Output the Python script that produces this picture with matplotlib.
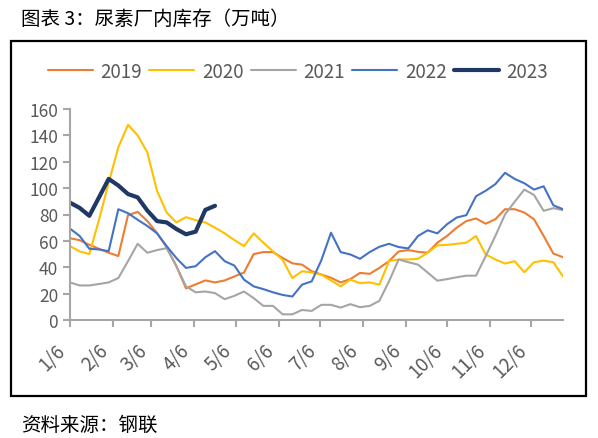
import matplotlib.pyplot as plt
import matplotlib.transforms as mtransforms
from matplotlib.patches import Rectangle
import numpy as np

plt.rcParams['font.family'] = ['Noto Sans CJK SC', 'DejaVu Sans']

# weekly observations, week 0 = 1/6
y2019 = [62, 60.5, 57, 54, 51, 48.5, 79.5, 82, 75, 66, 55, 41, 24, 27, 30, 28.5, 30, 33, 36, 50,
         51.5, 51.5, 47, 43, 42, 37, 34.5, 32, 28.5, 31, 35.7, 35, 39.5, 44.6, 52, 53, 51.7, 51,
         58.6, 63.7, 70, 75, 77, 73, 76.4, 84, 84, 81.5, 76.4, 63.7, 50.4, 47.6]
y2020 = [56, 52, 50, 76, 104, 131, 148, 140, 127, 98, 81.5, 74, 78, 75.7, 74, 70, 65.7, 60.6, 56,
         65.7, 58.6, 52, 45.6, 31.8, 37, 36, 34.4, 30, 25.5, 30.6, 28, 28.5, 26.8, 44.6, 45.9,
         45.9, 46.4, 51, 56.6, 57, 57.8, 58.6, 63.7, 49.7, 45.9, 42.8, 44.6, 36.2, 43.8, 45, 43.8, 33]
y2021 = [28.5, 26.2, 26.2, 27.3, 28.5, 31.8, 44.6, 57.8, 51, 53, 54.5, 40.8, 25.5, 21, 21.6, 20.4,
         15.8, 18.3, 21.6, 16.6, 10.7, 10.7, 4.3, 4.3, 7.6, 6.9, 11.5, 11.5, 9.4, 12, 9.7, 10.7,
         14.5, 29.3, 45.9, 43.8, 42, 36, 29.8, 31, 32.4, 33.6, 33.6, 48.4, 63.7, 80, 89.7, 98.9,
         94.8, 82.8, 84.8, 83.3]
y2022 = [69.3, 63.7, 54, 53.5, 52.2, 84, 81, 76, 71.3, 65.7, 56, 47, 39.5, 40.8, 47.6, 52.2, 44.6,
         41.3, 30.6, 25.5, 23.4, 21, 19, 17.8, 26.8, 29.3, 45.3, 66.2, 51.5, 49.7, 46.4, 51.5, 55.5,
         57.8, 55.3, 54.3, 63.7, 68, 65.7, 72.6, 77.7, 79.5, 93.8, 98, 103, 111.6, 107, 103.7,
         98.9, 101.4, 87, 84]
y2023 = [89, 85, 79, 93, 107, 102, 95.5, 93, 83, 75, 74, 69, 65, 67, 83.5, 86.6]

tick_days = [0, 31, 59, 90, 120, 151, 181, 212, 243, 273, 304, 334]
tick_labels = ['1/6', '2/6', '3/6', '4/6', '5/6', '6/6', '7/6', '8/6', '9/6', '10/6', '11/6', '12/6']

series = [('2019', y2019, '#ED7D31', 1.5),
          ('2020', y2020, '#FFC000', 1.5),
          ('2021', y2021, '#A5A5A5', 1.5),
          ('2022', y2022, '#4472C4', 1.5),
          ('2023', y2023, '#203864', 3.0)]

fig = plt.figure(figsize=(5.98, 4.39), dpi=100)
ax = fig.add_axes([70 / 598, 1 - 321 / 439, (563 - 70) / 598, (321 - 110) / 439])

for name, vals, color, lw in series:
    days = np.arange(len(vals)) * 7
    ax.plot(days, vals, color=color, lw=lw, label=name, solid_capstyle='round')

ax.set_xlim(0, 357)
ax.set_ylim(0, 160)
ax.set_yticks(np.arange(0, 161, 20))
ax.set_xticks(tick_days)
ax.set_xticklabels(tick_labels, rotation=45, ha='right', va='top', fontsize=13.5)

# nudge x labels slightly left like the original
shift = mtransforms.ScaledTranslation(-4 / 100, 0, fig.dpi_scale_trans)
for lbl in ax.get_xticklabels():
    lbl.set_transform(lbl.get_transform() + shift)

for s in ['top', 'right']:
    ax.spines[s].set_visible(False)
for s in ['left', 'bottom']:
    ax.spines[s].set_color('#A6A6A6')
    ax.spines[s].set_linewidth(1.5)
ax.tick_params(axis='both', colors='#A6A6A6', width=1.5, length=5, labelcolor='#595959')
ax.tick_params(axis='y', labelsize=12.5)
ax.tick_params(axis='x', pad=9)

fig.legend(loc='center', bbox_to_anchor=(298 / 598, 1 - 72 / 439), ncol=5, frameon=False,
           fontsize=13.5, handlelength=2.4, handletextpad=0.4, columnspacing=0.4,
           labelcolor='#595959')

fig.patches.append(Rectangle((11 / 598, 1 - 397 / 439), 575 / 598, 355 / 439,
                             transform=fig.transFigure, fill=False, edgecolor='black', lw=1.6))

fig.text(21 / 598, 1 - 19.5 / 439, '图表 3：尿素厂内库存（万吨）', fontsize=14,
         va='center', ha='left')
fig.text(21 / 598, 1 - 425 / 439, '资料来源：钢联', fontsize=14, va='center', ha='left')

fig.savefig('out.png', dpi=100)
